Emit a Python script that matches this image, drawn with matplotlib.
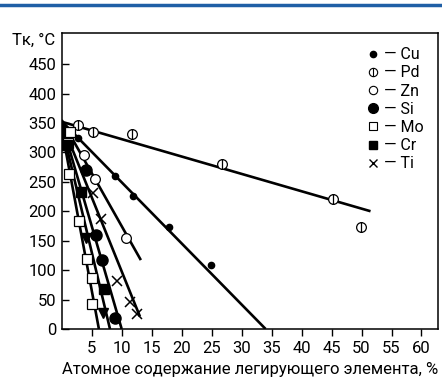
"""Температура Тк в зависимости от атомного содержания легирующего элемента."""

import matplotlib
matplotlib.use("Agg")
import matplotlib.pyplot as plt
from matplotlib.lines import Line2D
from matplotlib.path import Path

# Экспериментальные точки (x — ат. %, T — °C) ---------------------------------
cu_x = [2.7, 8.9, 11.9, 17.9, 24.9]
cu_t = [324, 260, 226, 173, 108]
pd_x = [2.7, 5.2, 11.8, 26.7, 45.2, 49.9]
pd_t = [346, 334, 331, 280, 221, 174]
zn_x = [3.8, 5.6, 10.7]
zn_t = [296, 254, 155]
si_x = [0.5, 4.0, 5.7, 6.8, 8.9]
si_t = [330, 270, 159, 117, 18]
mo_x = [1.4, 1.1, 1.2, 2.9, 4.3, 5.0, 5.0]
mo_t = [335, 316, 263, 184, 119, 87, 43]
cr_x = [0.8, 3.3, 7.0]
cr_t = [312, 232, 68]
tri_x = [4.0, 6.9]
tri_t = [155, 27]
ti_x = [5.3, 6.55, 9.2, 11.4, 12.5]
ti_t = [231, 187, 81, 46, 25]

# Аппроксимирующие прямые (концы отрезков)
fit_lines = {
    "Pd": ([0, 51.5], [352, 200]),
    "Cu": ([0, 34.0], [353, 0]),
    "Zn": ([0, 13.2], [355, 117]),
    "Ti": ([0, 13.05], [350, 21]),
    "Si": ([0, 10.0], [350, 0]),
    "Cr": ([0, 8.05], [345, 0]),
    "Mo": ([0, 6.2], [340, 0]),
}

x_ticks = [5, 10, 15, 20, 25, 30, 35, 40, 45, 50, 55, 60]
y_ticks = [0, 50, 100, 150, 200, 250, 300, 350, 400, 450]

plt.rcParams["font.family"] = ["Roboto", "DejaVu Sans"]

# круг с вертикальной чертой для Pd
phi = Path.make_compound_path(
    Path.unit_circle(),
    Path([[0, -1], [0, 1]], [Path.MOVETO, Path.LINETO]),
)

fig = plt.figure(figsize=(4.42, 3.87), dpi=100)
ax = fig.add_axes([0.1396, 0.150, 0.852, 0.765])

for xs, ts in fit_lines.values():
    ax.plot(xs, ts, color="black", lw=1.9, solid_capstyle="butt", zorder=2)

k = dict(color="black", ls="none", zorder=3)
ax.plot(cu_x, cu_t, marker="o", ms=4.5, **k)
ax.plot(pd_x, pd_t, marker=phi, ms=7, mfc="white", mew=0.9, **k)
ax.plot(zn_x, zn_t, marker="o", ms=7, mfc="white", mew=0.9, **k)
ax.plot(si_x, si_t, marker="o", ms=8, **k)
ax.plot(mo_x, mo_t, marker="s", ms=6.5, mfc="white", mew=0.9, **k)
ax.plot(cr_x, cr_t, marker="s", ms=7, **k)
ax.plot(tri_x, tri_t, marker="v", ms=7, **k)
ax.plot(ti_x, ti_t, marker="x", ms=7, mew=1.1, **k)

ax.set_xlim(0, 62.8)
ax.set_ylim(0, 503)
ax.set_xticks(x_ticks)
ax.set_yticks(y_ticks)
ax.tick_params(axis="y", direction="in", length=5, width=1, labelsize=12, pad=4)
ax.tick_params(axis="x", direction="out", length=5, width=1, labelsize=12, pad=4)
for s in ax.spines.values():
    s.set_linewidth(1.1)

ax.set_xlabel("Атомное содержание легирующего элемента, %", fontsize=12, labelpad=4)
fig.text(0.125, 0.895, "Тк, °С", fontsize=12, ha="right", va="center")

handles = [
    Line2D([], [], marker="o", ms=4.5, color="black", ls="none"),
    Line2D([], [], marker=phi, ms=6, mfc="white", mew=0.8, color="black", ls="none"),
    Line2D([], [], marker="o", ms=6, mfc="white", mew=0.8, color="black", ls="none"),
    Line2D([], [], marker="o", ms=7, color="black", ls="none"),
    Line2D([], [], marker="s", ms=6, mfc="white", mew=0.8, color="black", ls="none"),
    Line2D([], [], marker="s", ms=6, color="black", ls="none"),
    Line2D([], [], marker="x", ms=6, mew=1, color="black", ls="none"),
]
labels = ["— Cu", "— Pd", "— Zn", "— Si", "— Mo", "— Cr", "— Ti"]
ax.legend(handles, labels, loc="upper right", frameon=False, fontsize=11.5,
          handlelength=0.8, handletextpad=0.3, labelspacing=0.2,
          borderaxespad=0.5)

# синяя полоса сверху
fig.add_artist(Line2D([0, 1], [0.986, 0.986], transform=fig.transFigure,
                      color="#1f5fa6", lw=2.5))

fig.savefig("out.png", dpi=100)
